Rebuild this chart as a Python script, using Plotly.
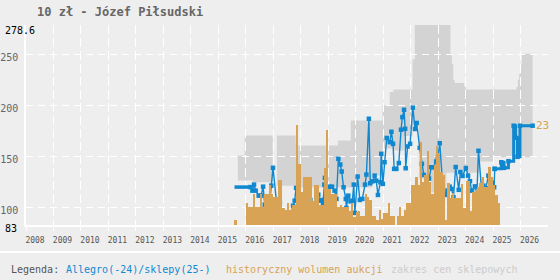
import plotly.graph_objects as go

# ---------------- data ----------------
title_text = "10 zł - Józef Piłsudski"
year_ticks = list(range(2008, 2027))
y_ticks = [100, 150, 200, 250]
y_min, y_max = 83, 278.6
last_label = "23"

# shop price range (step breakpoints)
band_t = [2015.71, 2015.96, 2016.25, 2016.98, 2017.13, 2017.82, 2019.35, 2019.82, 2020.60, 2020.98,
          2021.24, 2021.38, 2021.75, 2022.07, 2022.15, 2022.30, 2022.75, 2023.30, 2023.45, 2023.50,
          2023.55, 2023.60, 2023.95, 2024.00, 2024.50, 2025.00, 2025.85, 2025.90, 2025.95, 2026.00,
          2026.05]
band_lo = [126.4, 126.4, 124.8, 150.0, 121.5, 119.6, 119.6, 119.6, 131.3, 157.8,
           157.8, 155.8, 170.0, 180.0, 180.0, 128.4, 114.7, 134.0, 134.0, 134.0,
           134.0, 134.0, 134.0, 134.0, 145.0, 149.3, 149.3, 149.3, 149.3, 149.3,
           149.3]
band_hi = [151.0, 170.5, 170.5, 150.0, 170.5, 160.7, 165.6, 185.2, 185.2, 200.0,
           213.0, 215.6, 215.6, 245.0, 278.6, 278.6, 278.6, 278.6, 250.6, 240.8,
           225.0, 221.8, 218.0, 215.6, 215.6, 215.6, 218.0, 225.0, 231.0, 240.0,
           250.6]
band_end = 2026.44

# Allegro prices
early_t = [2015.59, 2016.17]
early_v = [120.1, 120.1]

allegro_t = [2016.17, 2016.24, 2016.30, 2016.36, 2016.47, 2016.56, 2016.63, 2016.69, 2016.79, 2016.85, 2016.89, 2016.93, 2016.99,
             2017.12, 2017.17, 2017.24, 2017.28, 2017.33, 2017.39, 2017.48, 2017.57, 2017.65, 2017.72, 2017.78, 2017.83, 2017.88, 2017.93, 2017.97,
             2018.05, 2018.08, 2018.17, 2018.23, 2018.30, 2018.35, 2018.40, 2018.48, 2018.56, 2018.64, 2018.69, 2018.76, 2018.81, 2018.86, 2018.88, 2018.93, 2018.99,
             2019.05, 2019.14, 2019.23, 2019.30, 2019.37, 2019.44, 2019.49, 2019.56, 2019.64, 2019.66, 2019.73, 2019.81, 2019.88, 2019.93, 2019.97,
             2020.07, 2020.15, 2020.24, 2020.34, 2020.39, 2020.48, 2020.53, 2020.61, 2020.69, 2020.75, 2020.81, 2020.90, 2020.93, 2020.99,
             2021.05, 2021.13, 2021.24, 2021.30, 2021.36, 2021.40, 2021.48, 2021.57, 2021.65, 2021.70, 2021.76, 2021.80, 2021.82, 2021.89, 2021.98,
             2022.08, 2022.16, 2022.22, 2022.33, 2022.41, 2022.48, 2022.59, 2022.67, 2022.75, 2022.82, 2022.93, 2022.99,
             2023.06, 2023.17, 2023.25, 2023.34, 2023.42, 2023.49, 2023.56, 2023.64, 2023.75, 2023.81, 2023.89,
             2024.01, 2024.09, 2024.16, 2024.22, 2024.34, 2024.40, 2024.47, 2024.58, 2024.65, 2024.74, 2024.83, 2024.92, 2024.98,
             2025.04, 2025.06]
allegro_v = [120.1, 116.6, 122.5, 116.6, 111.7, 111.7, 120.5, 102.9, 102.9, 107.8, 110.7, 121.5, 138.9,
             105.2, 105.2, 104.6, 93.8, 85.5, 85.5, 85.5, 88.9, 94.4, 101.9, 106.8, 119.3, 100.3, 93.1, 83.3,
             98.7, 92.1, 84.6, 97.0, 112.4, 107.5, 104.2, 94.4, 90.5, 112.7, 106.8, 107.5, 104.2, 122.5, 129.1, 119.9, 106.8,
             120.5, 120.5, 116.6, 108.5, 147.7, 142.1, 135.3, 119.9, 108.5, 99.7, 111.7, 106.1, 106.8, 122.5, 94.8,
             130.4, 107.5, 108.5, 122.5, 132.3, 186.9, 123.8, 125.7, 131.3, 126.4, 112.4, 124.8, 152.6, 123.2,
             144.4, 168.1, 164.0, 174.2, 162.4, 137.9, 137.9, 143.6, 176.2, 188.5, 195.7, 177.1, 138.5, 159.8, 162.4,
             197.8, 176.9, 182.8, 158.5, 142.8, 132.0, 128.4, 128.4, 139.5, 139.5, 145.1, 149.0,
             163.0, 121.0, 112.4, 116.6, 120.5, 118.3, 110.1, 139.7, 117.4, 134.8, 131.0,
             138.7, 131.3, 125.9, 116.6, 120.8, 104.9, 155.6, 118.3, 121.5, 118.9, 131.3, 125.2, 124.2,
             119.9, 137.9]

# shop prices (2025-)
shop_t = [2025.06, 2025.30, 2025.40, 2025.56, 2025.75, 2025.82, 2025.89, 2025.98, 2026.44]
shop_v = [137.9, 144.4, 138.9, 145.4, 180.1, 168.3, 149.7, 180.1, 180.1]

# monthly auction volume
vol_2015_aug = 5
vol_2016 = [22, 18, 18, 31, 18, 18, 31, 18, 31, 31, 40, 31]
vol_2017 = [28, 28, 45, 45, 17, 15, 22, 15, 20, 20, 100, 61]
vol_2018 = [33, 48, 48, 48, 48, 24, 40, 40, 20, 20, 57, 95]
vol_2019 = [36, 31, 31, 31, 18, 20, 18, 18, 18, 14, 22, 8]
vol_2020 = [13, 14, 9, 9, 31, 28, 25, 9, 9, 5, 15, 6]
vol_2021 = [12, 12, 22, 9, 9, 0, 9, 18, 9, 15, 22, 22]
vol_2022 = [40, 40, 48, 40, 83, 43, 50, 74, 43, 31, 60, 79]
vol_2023 = [72, 53, 50, 5, 42, 27, 32, 27, 27, 27, 41, 17]
vol_2024 = [44, 44, 14, 33, 35, 38, 42, 48, 38, 38, 58, 48]
vol_2025 = [40, 30, 22]

# ---------------- styling ----------------
BG = "#eeeeee"
BLUE = "#1088d0"
ORANGE = "#d8a354"
BAND = "#d3d3d3"
FONT = "DejaVu Sans Mono"

volume = vol_2016 + vol_2017 + vol_2018 + vol_2019 + vol_2020 + vol_2021 + vol_2022 + vol_2023 + vol_2024 + vol_2025
bar_x = [2015 + 7.5 / 12] + [2016 + (i + 0.5) / 12 for i in range(len(volume))]
bar_y = [vol_2015_aug] + volume

fig = go.Figure()

fig.add_trace(go.Bar(x=bar_x, y=bar_y, width=1 / 12, marker=dict(color=ORANGE, line=dict(width=0)),
                     yaxis="y2", hoverinfo="skip", showlegend=False))
fig.add_trace(go.Scatter(x=early_t, y=early_v, mode="lines", line=dict(color=BLUE, width=3.5),
                         showlegend=False, hoverinfo="skip"))
fig.add_trace(go.Scatter(x=allegro_t, y=allegro_v, mode="lines+markers",
                         line=dict(color=BLUE, width=1.4),
                         marker=dict(symbol="square", size=4.5, color=BLUE),
                         showlegend=False))
fig.add_trace(go.Scatter(x=shop_t, y=shop_v, mode="lines+markers", line=dict(color=BLUE, width=3, shape="hv"),
                         marker=dict(symbol="square", size=4.5, color=BLUE), showlegend=False))

# band path (step polygon)
n = len(band_t)
up, lo = [], []
for i in range(n):
    t0 = band_t[i]
    t1 = band_t[i + 1] if i + 1 < n else band_end
    up += [(t0, band_hi[i]), (t1, band_hi[i])]
    lo += [(t0, band_lo[i]), (t1, band_lo[i])]
pts = up + lo[::-1]
path = "M " + " L ".join(f"{t},{v}" for t, v in pts) + " Z"

shapes = [
    dict(type="path", path=path, xref="x", yref="y", fillcolor=BAND, line=dict(width=0), layer="below"),
    dict(type="line", xref="paper", yref="paper", x0=-0.06, x1=1.04, y0=-0.135, y1=-0.135,
         line=dict(color="white", width=2)),
]

annotations = [
    dict(text="<b>" + title_text + "</b>", xref="paper", yref="paper", x=0.0172, y=1.065,
         xanchor="left", yanchor="middle", showarrow=False, font=dict(family=FONT, size=12, color="#666666")),
    dict(text=f"{y_max}", xref="paper", yref="y", x=0, xshift=-23, y=y_max, yshift=-5.5,
         xanchor="left", yanchor="middle", showarrow=False, font=dict(family=FONT, size=10, color="#000000")),
    dict(text=f"{y_min}", xref="paper", yref="y", x=0, xshift=-23, y=y_min, yshift=-3,
         xanchor="left", yanchor="middle", showarrow=False, font=dict(family=FONT, size=10, color="#000000")),
    dict(text=last_label, xref="x", yref="y", x=shop_t[-1], y=shop_v[-1], xshift=1,
         xanchor="left", yanchor="middle", showarrow=False, font=dict(family=FONT, size=11, color=ORANGE)),
    dict(text="Legenda:", xref="paper", yref="paper", x=-0.0326, y=-0.223, xanchor="left", yanchor="middle",
         showarrow=False, font=dict(family=FONT, size=10, color="#555555")),
    dict(text="Allegro(-24)/sklepy(25-)", xref="paper", yref="paper", x=0.0728, y=-0.223, xanchor="left",
         yanchor="middle", showarrow=False, font=dict(family=FONT, size=10, color=BLUE)),
    dict(text="historyczny wolumen aukcji", xref="paper", yref="paper", x=0.3793, y=-0.223, xanchor="left",
         yanchor="middle", showarrow=False, font=dict(family=FONT, size=10, color=ORANGE)),
    dict(text="zakres cen sklepowych", xref="paper", yref="paper", x=0.6954, y=-0.223, xanchor="left",
         yanchor="middle", showarrow=False, font=dict(family=FONT, size=10, color="#cccccc")),
]

fig.update_layout(
    width=560, height=280,
    margin=dict(l=26, r=12, t=25, b=55, autoexpand=False),
    paper_bgcolor=BG, plot_bgcolor=BG,
    bargap=0,
    showlegend=False,
    shapes=shapes,
    annotations=annotations,
    xaxis=dict(range=[2008, 2027], tickmode="array", tickvals=year_ticks, automargin=False,
               ticktext=[str(y) for y in year_ticks], ticklabelshift=9, ticklabelstandoff=3,
               ticks="outside", ticklen=4, tickcolor="white",
               showgrid=True, gridcolor="white", gridwidth=1, griddash="9px,4px",
               showline=True, linecolor="white", linewidth=1.5, zeroline=False,
               tickfont=dict(family=FONT, size=8, color="#555555")),
    yaxis=dict(range=[y_min, y_max], tickmode="array", tickvals=y_ticks, automargin=False,
               ticks="", ticklabelshift=3, ticklabelstandoff=4,
               showgrid=True, gridcolor="white", gridwidth=1, griddash="7px,5px",
               showline=True, linecolor="white", linewidth=1.5, zeroline=False,
               tickfont=dict(family=FONT, size=10, color="#666666")),
    yaxis2=dict(range=[0, 200], overlaying="y", visible=False, showgrid=False),
)

fig.write_html("out.html")
